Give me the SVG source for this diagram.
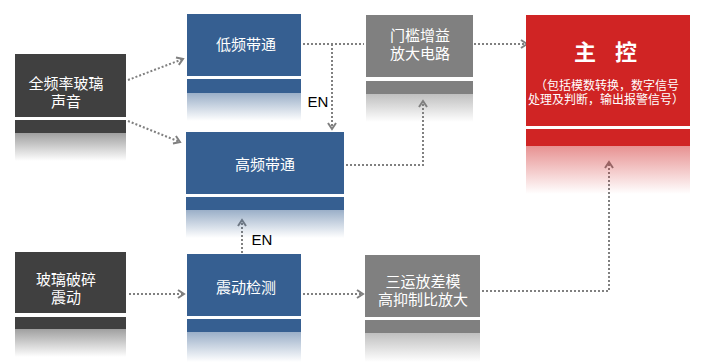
<svg xmlns="http://www.w3.org/2000/svg" width="709" height="364" viewBox="0 0 709 364">
<defs>
<style>
.t{font-family:"Liberation Sans","Noto Sans CJK SC",sans-serif;font-size:15px;fill:#fff;text-anchor:middle}
.s{font-size:12px}
.b{font-size:22px;font-weight:bold}
.en{font-family:"Liberation Sans","Noto Sans CJK SC",sans-serif;font-size:15px;fill:#000;text-anchor:middle}
.c{fill:none;stroke:#808080;stroke-width:2;stroke-dasharray:2 2}
.a{marker-end:url(#arr)}
</style>
<marker id="arr" viewBox="0 0 10 10" refX="8" refY="5" markerWidth="10" markerHeight="10" markerUnits="userSpaceOnUse" orient="auto">
<path d="M2,1 L8,5 L2,9" fill="none" stroke="#808080" stroke-width="2"/>
</marker>
<linearGradient id="gDark" x1="0" y1="0" x2="0" y2="1"><stop offset="0" stop-color="#404040" stop-opacity="0.5"/><stop offset="1" stop-color="#404040" stop-opacity="0"/></linearGradient>
<linearGradient id="gBlue" x1="0" y1="0" x2="0" y2="1"><stop offset="0" stop-color="#365F91" stop-opacity="0.5"/><stop offset="1" stop-color="#365F91" stop-opacity="0"/></linearGradient>
<linearGradient id="gGray" x1="0" y1="0" x2="0" y2="1"><stop offset="0" stop-color="#808080" stop-opacity="0.5"/><stop offset="1" stop-color="#808080" stop-opacity="0"/></linearGradient>
<linearGradient id="gRed" x1="0" y1="0" x2="0" y2="1"><stop offset="0" stop-color="#D02424" stop-opacity="0.5"/><stop offset="1" stop-color="#D02424" stop-opacity="0"/></linearGradient>
</defs>
<rect width="709" height="364" fill="#fff"/>

<g id="connectors">
<path class="c a" d="M128,80 L183,59"/>
<path class="c a" d="M128,121 L180,142"/>
<path class="c" d="M303,44 L364,44"/>
<path class="c a" d="M332,44 L332,129"/>
<path class="c a" d="M474,44 L527,44"/>
<path class="c a" d="M346,165 L423,165 L423,101"/>
<path class="c a" d="M129,294 L184,294"/>
<path class="c a" d="M242,253 L242,220"/>
<path class="c a" d="M303,294 L363,294"/>
<path class="c a" d="M482,291 L609,291 L609,162"/>
<text class="en" x="318" y="107">EN</text>
<text class="en" x="262" y="245">EN</text>
</g>

<g id="n-full">
<rect x="15" y="54" width="111" height="63" fill="#404040"/>
<rect x="15" y="120" width="111" height="13" fill="#404040"/>
<rect x="15" y="133" width="111" height="28" fill="url(#gDark)"/>
<text class="t" x="66" y="89">全频率玻璃</text>
<text class="t" x="66" y="107">声音</text>
</g>

<g id="n-low">
<rect x="187" y="14" width="114" height="62" fill="#365F91"/>
<rect x="187" y="79" width="114" height="14" fill="#365F91"/>
<rect x="187" y="93" width="114" height="28" fill="url(#gBlue)"/>
<text class="t" x="246" y="50">低频带通</text>
</g>

<g id="n-high">
<rect x="186" y="132" width="158" height="62" fill="#365F91"/>
<rect x="186" y="197" width="158" height="13" fill="#365F91"/>
<rect x="186" y="210" width="158" height="28" fill="url(#gBlue)"/>
<text class="t" x="265" y="170">高频带通</text>
</g>

<g id="n-gate">
<rect x="366" y="15" width="107" height="62" fill="#808080"/>
<rect x="366" y="81" width="107" height="13" fill="#808080"/>
<rect x="366" y="94" width="107" height="28" fill="url(#gGray)"/>
<text class="t" x="420" y="41">门槛增益</text>
<text class="t" x="420" y="59">放大电路</text>
</g>

<g id="n-main">
<rect x="526" y="15" width="164" height="111" fill="#D02424"/>
<rect x="526" y="129" width="164" height="17" fill="#D02424"/>
<rect x="526" y="146" width="164" height="48" fill="url(#gRed)"/>
<text class="t b" x="585" y="60">主</text>
<text class="t b" x="626" y="60">控</text>
<text class="t s" x="607" y="90">（包括模数转换，数字信号</text>
<text class="t s" x="606" y="104">处理及判断，输出报警信号）</text>
</g>

<g id="n-break">
<rect x="15" y="252" width="111" height="61" fill="#404040"/>
<rect x="15" y="317" width="111" height="12" fill="#404040"/>
<rect x="15" y="329" width="111" height="28" fill="url(#gDark)"/>
<text class="t" x="66" y="285">玻璃破碎</text>
<text class="t" x="66" y="303">震动</text>
</g>

<g id="n-vib">
<rect x="187" y="254" width="114" height="62" fill="#365F91"/>
<rect x="187" y="319" width="114" height="13" fill="#365F91"/>
<rect x="187" y="332" width="114" height="30" fill="url(#gBlue)"/>
<text class="t" x="246" y="293">震动检测</text>
</g>

<g id="n-amp">
<rect x="365" y="255" width="115" height="62" fill="#808080"/>
<rect x="365" y="320" width="115" height="13" fill="#808080"/>
<rect x="365" y="333" width="115" height="29" fill="url(#gGray)"/>
<text class="t" x="423" y="287">三运放差模</text>
<text class="t" x="423" y="305">高抑制比放大</text>
</g>
</svg>
